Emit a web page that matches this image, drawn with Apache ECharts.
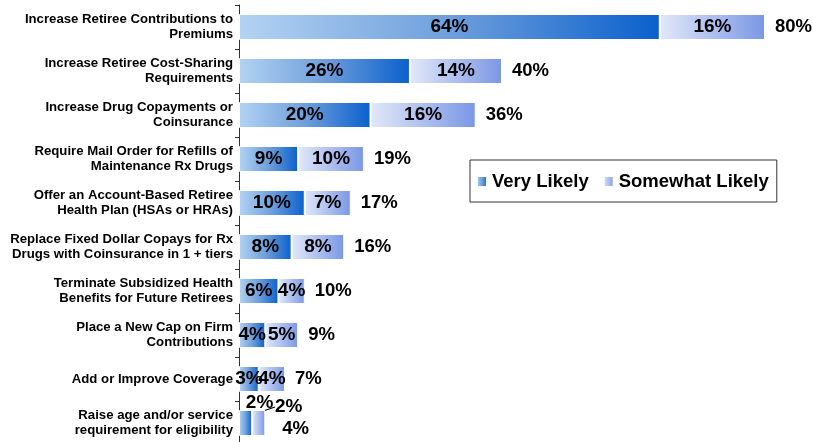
<!DOCTYPE html>
<html>
<head>
<meta charset="utf-8">
<script src="https://cdn.jsdelivr.net/npm/echarts@6/dist/echarts.min.js"></script>
<style>
html,body{margin:0;padding:0;background:#fff;}
#c{width:813px;height:442px;}
</style>
</head>
<body>
<div id="c"></div>
<script>
var categories = [
  "Increase Retiree Contributions to\nPremiums",
  "Increase Retiree Cost-Sharing\nRequirements",
  "Increase Drug Copayments or\nCoinsurance",
  "Require Mail Order for Refills of\nMaintenance Rx Drugs",
  "Offer an Account-Based Retiree\nHealth Plan (HSAs or HRAs)",
  "Replace Fixed Dollar Copays for Rx\nDrugs with Coinsurance in 1 + tiers",
  "Terminate Subsidized Health\nBenefits for Future Retirees",
  "Place a New Cap on Firm\nContributions",
  "Add or Improve Coverage",
  "Raise age and/or service\nrequirement for eligibility"
];
var veryLikely = [64, 26, 20, 9, 10, 8, 6, 4, 3, 2];
var somewhatLikely = [16, 14, 16, 10, 7, 8, 4, 5, 4, 2];
var totals = [80, 40, 36, 19, 17, 16, 10, 9, 7, 4];

var FONT = '"Liberation Sans", Arial, sans-serif';
var vlGrad = {type:'linear', x:0, y:0, x2:1, y2:0, colorStops:[
  {offset:0, color:'#b3d3f2'}, {offset:0.5, color:'#6f9fdc'}, {offset:1, color:'#0a60cc'}]};
var slGrad = {type:'linear', x:0, y:0, x2:1, y2:0, colorStops:[
  {offset:0, color:'#e2e8f9'}, {offset:1, color:'#7a97e5'}]};

var labelStyle = {show:true, position:'inside', color:'#000', fontFamily:FONT, fontWeight:'bold', fontSize:19,
  formatter:function(p){return p.value + '%';}};

var vlData = veryLikely.map(function(v,i){
  if (i === categories.length - 1) {
    return {value:v, label:{offset:[14,-20]}};
  }
  return v;
});
var slData = somewhatLikely.map(function(v){return v;});
var totData = totals.map(function(t,i){
  if (i === categories.length - 1) {
    return {value:0, label:{offset:[7,6]}};
  }
  return 0;
});

var chart = echarts.init(document.getElementById('c'), null, {renderer:'canvas'});
chart.setOption({
  animation:false,
  backgroundColor:'#fff',
  grid:{left:239, right:48, top:5, height:440, outerBoundsMode:'none'},
  xAxis:{type:'value', min:0, max:80, show:false},
  yAxis:{type:'category', data:categories, inverse:true,
    axisLine:{show:true, lineStyle:{color:'#333', width:1}},
    axisTick:{show:true, length:4, lineStyle:{color:'#333'}},
    axisLabel:{color:'#000', fontFamily:FONT, fontWeight:'bold', fontSize:13.2, lineHeight:15.5, margin:6, align:'right'}
  },
  legend:{
    data:['Very Likely','Somewhat Likely'],
    left:470, top:160, orient:'horizontal',
    padding:[12,8,11,6], itemGap:14, itemWidth:10, itemHeight:11,
    borderColor:'#333', borderWidth:1, backgroundColor:'#fff',
    textStyle:{color:'#000', fontFamily:FONT, fontWeight:'bold', fontSize:18.5},
    icon:'rect'
  },
  series:[
    {name:'Very Likely', type:'bar', stack:'s', barWidth:26, data:vlData,
      itemStyle:{color:vlGrad, borderColor:'#ffffff', borderWidth:1},
      label:labelStyle},
    {name:'Somewhat Likely', type:'bar', stack:'s', barWidth:26, data:slData,
      itemStyle:{color:slGrad, borderColor:'#ffffff', borderWidth:1},
      label:labelStyle,
      labelLine:{show:true, lineStyle:{color:'#000', width:1.2}, length2:0},
      labelLayout:function(p){
        if (p.dataIndex === categories.length - 1) {
          return {dx:30, dy:-16};
        }
        return {};
      }},
    {name:'Total', type:'bar', stack:'s', barWidth:26, data:totData,
      itemStyle:{color:'rgba(0,0,0,0)'},
      label:{show:true, position:'right', distance:10, color:'#000', fontFamily:FONT, fontWeight:'bold', fontSize:18.5,
        formatter:function(p){return totals[p.dataIndex] + '%';}},
      tooltip:{show:false}}
  ]
});
</script>
</body>
</html>
